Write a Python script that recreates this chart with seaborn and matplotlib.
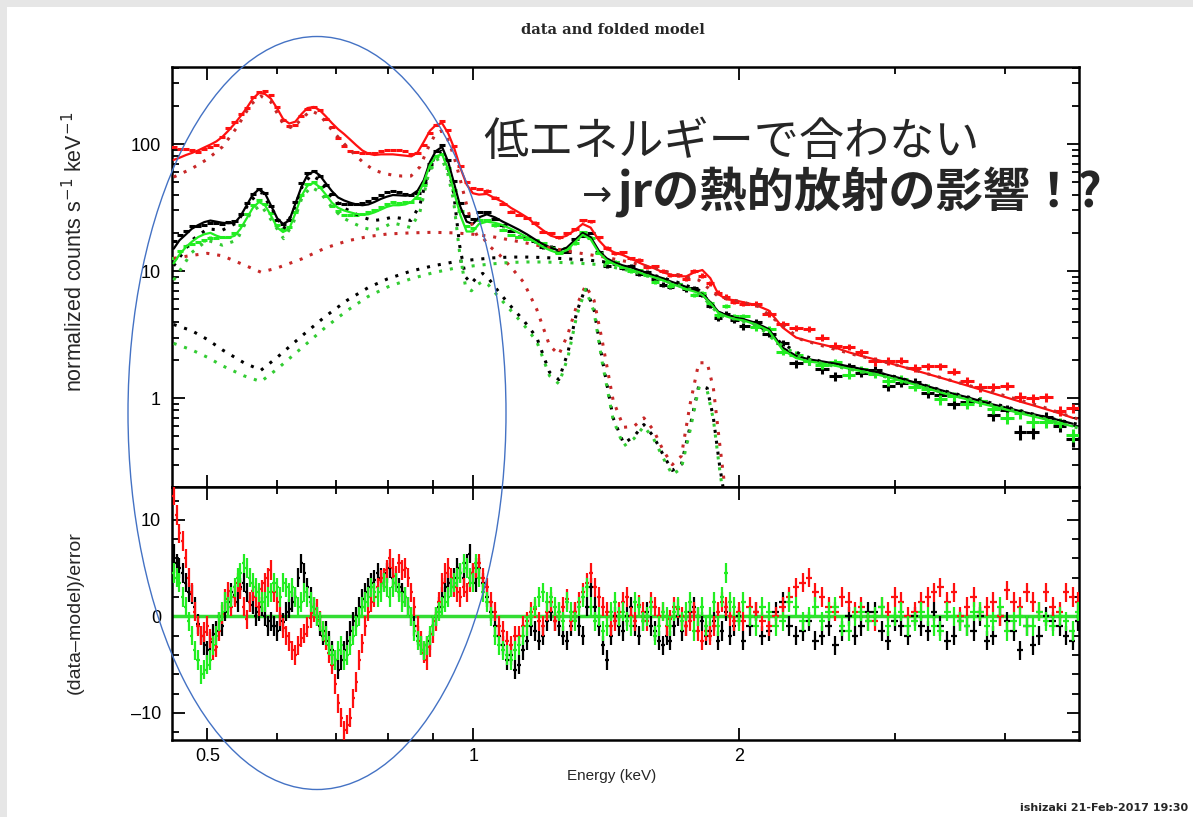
import numpy as np
import matplotlib
matplotlib.use('Agg')
import matplotlib.pyplot as plt
import seaborn as sns
from matplotlib.patches import Ellipse, Rectangle
from matplotlib.ticker import FixedLocator, NullFormatter, MultipleLocator, LogLocator

# ---- spectra read off the XSPEC "data and folded model" plot ----
# bin centres (keV)
energy = [0.458, 0.465, 0.473, 0.480, 0.488, 0.496, 0.504, 0.512, 0.520, 0.528,
          0.537, 0.545, 0.554, 0.563, 0.572, 0.581, 0.590, 0.600, 0.609, 0.619,
          0.629, 0.639, 0.649, 0.660, 0.670, 0.681, 0.692, 0.703, 0.714, 0.726,
          0.737, 0.749, 0.761, 0.773, 0.786, 0.798, 0.811, 0.824, 0.838, 0.851,
          0.865, 0.879, 0.893, 0.907, 0.922, 0.937, 0.952, 0.967, 0.983, 0.999,
          1.015, 1.036, 1.058, 1.080, 1.103, 1.126, 1.150, 1.174, 1.199, 1.224,
          1.250, 1.276, 1.303, 1.330, 1.358, 1.387, 1.416, 1.446, 1.476, 1.507,
          1.539, 1.571, 1.604, 1.638, 1.672, 1.707, 1.743, 1.780, 1.817, 1.855,
          1.894, 1.934, 1.975,
          2.02, 2.09, 2.16, 2.24, 2.32, 2.40, 2.48, 2.57, 2.66, 2.75,
          2.85, 2.95, 3.05, 3.16, 3.27, 3.38, 3.50, 3.62, 3.75, 3.88,
          4.02, 4.16, 4.30, 4.45, 4.61, 4.77]

# folded model (counts s^-1 keV^-1)
red_model = [75, 78, 82, 85, 89, 94, 99, 105, 114, 127,
             145, 165, 192, 228, 252, 248, 228, 190, 158, 145,
             150, 172, 192, 196, 185, 165, 146, 131, 120, 108,
             98, 89, 84, 82, 83, 83, 83, 82, 81, 80,
             86, 104, 127, 141, 146, 121, 92, 65, 48, 41,
             40, 40.5, 37.5, 35, 31.5, 29, 26.5, 23.5, 21, 19,
             18.2, 19, 21, 23.5, 22, 17.5, 15, 14, 13.4, 12.6,
             11.7, 11, 10.5, 9.8, 9.4, 9.1, 9.1, 9.8, 10.2, 8.8,
             6.6, 6.0, 5.9,
             5.7, 5.4, 4.9, 3.6, 3.0, 2.8, 2.65, 2.5, 2.3, 2.15,
             2.02, 1.9, 1.78, 1.66, 1.55, 1.45, 1.35, 1.26, 1.17, 1.09,
             1.01, 0.94, 0.88, 0.82, 0.76, 0.70]
black_model = [15, 17.5, 19.5, 21.5, 23, 24.3, 25, 24.5, 24, 23.8,
               24, 27, 33, 40, 44, 41, 33, 26, 23.5, 25,
               34, 46, 57, 61, 57, 49, 42.5, 38, 36, 34.5,
               33.5, 33, 33.5, 35, 37, 38.5, 39.7, 39.5, 39.2, 39.7,
               43, 52, 72, 88, 95, 72, 48, 32, 24.5, 23.5,
               26.5, 28, 26.5, 24.5, 22.8, 21.2, 19.5, 17.8, 16.3, 15.3,
               14.5, 15.3, 17.5, 20, 18.5, 14.5, 12.6, 11.7, 11.1, 10.7,
               10.2, 9.7, 9.2, 8.8, 8.3, 7.9, 7.5, 7.1, 6.6, 5.7,
               4.8, 4.5, 4.3,
               4.2, 3.9, 3.5, 2.5, 2.15, 2.02, 1.95, 1.87, 1.78, 1.7,
               1.62, 1.52, 1.43, 1.33, 1.24, 1.16, 1.08, 1.02, 0.95, 0.89,
               0.84, 0.79, 0.75, 0.71, 0.67, 0.63]
green_model = [11.5, 13.5, 15.5, 17, 18.5, 19.5, 20, 19, 18.3, 18.3,
               19, 21.5, 26, 31.5, 35, 33, 27.5, 22, 20.3, 21.5,
               28.5, 39, 47, 49.5, 46, 40, 34.5, 31.5, 30, 29,
               28.2, 27.8, 28, 29, 30.5, 32, 33, 33, 33.5, 35,
               39, 50, 68, 80, 83, 63, 41, 27.5, 20.5, 20.5,
               23.5, 24.5, 24, 23, 21.5, 20, 18.5, 17, 15.5, 14.5,
               13.8, 14.6, 16.8, 19.3, 17.8, 14, 12.2, 11.3, 10.7, 10.3,
               9.8, 9.3, 8.9, 8.5, 8.0, 7.6, 7.2, 6.9, 6.5, 5.6,
               4.7, 4.4, 4.2,
               4.1, 3.8, 3.4, 2.4, 2.07, 1.95, 1.88, 1.8, 1.71, 1.63,
               1.55, 1.46, 1.37, 1.28, 1.19, 1.11, 1.04, 0.98, 0.91, 0.86,
               0.81, 0.76, 0.72, 0.68, 0.64, 0.60]

# (data-model)/error at the bins above
red_resid = [12.5, 8.6, 6.0, 2.5, -1.0, -1.6, -2.3, -3.2, 0.2, 2.6,
             2.0, 2.8, -0.3, 2.6, 1.0, 3.5, 4.8, 1.5, -1.2, -2.6,
             -4.0, -2.2, -1.1, 0.4, -0.4, -2.5, -5.0, -9.0, -11.8, -10.5,
             -6.8, -2.8, 0.5, 2.0, 3.8, 4.8, 5.0, 5.5, 5.0, 2.5,
             -1.0, -3.8, -3.2, -0.5, 3.5, 5.0, 3.0, 2.0, 2.5, 4.5,
             5.5, 3.0, 0.5, -1.5, -3.0, -2.0, -0.5, 0.8, -1.0, 1.5,
             0.5, 1.8, 0.5, 2.5, 4.5, 2.0, 0.5, -0.5, 1.5, 0.0,
             1.2, -0.5, 1.0, 0.5, -0.3, 0.8, -1.0, 0.5, -2.5, -2.0,
             0.5, 1.0, -0.5,
             -0.5, 0.5, -1.0, 1.0, 3.0, 4.0, 2.0, 0.5, 1.5, 1.0,
             -0.5, 0.5, 1.5, 0.5, 2.0, 3.0, 2.5, 1.0, 0.5, 1.5,
             2.7, 1.0, 1.5, 2.5, 0.5, 2.0]
black_resid = [6.5, 5.0, 3.5, 2.3, -0.8, -3.0, -2.6, -1.5, -1.0, 1.5,
               2.2, 3.0, 2.5, 1.2, 0.5, 0.0, -0.5, -1.5, -0.6, 0.8,
               2.0, 5.5, 3.0, 1.0, -1.0, -1.5, -3.5, -5.5, -3.5, -1.5,
               0.0, 1.8, 3.0, 3.8, 4.0, 4.5, 4.0, 3.0, 2.0, 0.0,
               -2.0, -3.5, -2.5, 0.0, 2.0, 3.5, 4.0, 4.5, 5.5, 4.5,
               5.0, 2.0, -1.0, -3.0, -4.0, -5.0, -2.5, -1.5, -2.0, 0.5,
               -1.0, -2.5, 0.5, -2.0, 3.0, -1.0, -4.5, 0.0, -1.5, 1.0,
               -2.0, 0.5, -1.5, -3.0, -2.5, 0.0, -1.0, 1.0, -0.5, -1.5,
               -2.5, 0.5, -1.0,
               -2.5, 0.5, -1.5, 1.5, -2.0, -0.5, -2.0, -3.0, 0.0, -1.0,
               0.5, -2.5, -1.0, 0.0, -1.5, -1.0, -2.0, -1.0, 0.0, -2.0,
               -0.5, -3.5, -3.0, 0.0, -1.0, -2.5]
green_resid = [4.5, 3.5, 1.0, -2.0, -4.5, -5.5, -4.5, -2.0, 0.5, 1.0,
               3.0, 4.5, 5.0, 3.5, 2.5, 1.5, 2.5, 3.0, 3.5, 2.5,
               2.0, 1.5, 2.0, 1.0, -0.5, -2.0, -4.0, -3.5, -4.5, -3.0,
               -1.0, 1.0, 2.0, 2.5, 2.5, 3.0, 3.0, 2.5, 2.0, 0.0,
               -2.5, -3.5, -2.0, 0.0, 1.0, 2.0, 3.5, 4.5, 5.0, 3.5,
               4.0, 1.5, -2.0, -3.5, -4.5, -3.0, -1.0, 1.0, 2.5, 2.0,
               0.5, 1.5, -0.5, 2.0, 1.0, 0.0, -1.0, 1.5, 0.5, -1.0,
               1.0, 0.0, -2.0, 0.5, -1.0, 1.0, 0.5, -1.5, 1.0, 0.0,
               -1.0, 4.5, 1.0,
               1.5, -1.0, 0.5, -0.5, 1.0, 0.0, -0.5, 1.0, -1.5, 0.5,
               0.0, -1.0, 0.5, -0.5, 0.0, -1.5, 0.0, -1.0, 0.5, -0.5,
               -1.5, 0.0, -1.0, -0.5, 0.0, -1.5]

# the residual panel also shows the bins lying between the ones above
energy_mid = [0.4615, 0.469, 0.4765, 0.484, 0.492, 0.500, 0.508, 0.516, 0.524, 0.5325,
              0.541, 0.5495, 0.5585, 0.5675, 0.5765, 0.5855, 0.595, 0.6045, 0.614, 0.624,
              0.634, 0.644, 0.6545, 0.665, 0.6755, 0.6865, 0.6975, 0.7085, 0.720, 0.7315,
              0.743, 0.755, 0.767, 0.7795, 0.792, 0.8045, 0.8175, 0.831, 0.8445, 0.858,
              0.872, 0.886, 0.900, 0.9145, 0.9295, 0.9445, 0.9595, 0.975, 0.991, 1.007,
              1.0255, 1.047, 1.069, 1.0915, 1.1145, 1.138, 1.162, 1.1865, 1.2115, 1.237,
              1.263, 1.2895, 1.3165, 1.344, 1.3725, 1.4015, 1.431, 1.461, 1.4915, 1.523,
              1.555, 1.5875, 1.621, 1.655, 1.6895, 1.725, 1.7615, 1.7985, 1.836, 1.8745,
              1.914, 1.9545, 1.997,
              2.055, 2.125, 2.20, 2.28, 2.36, 2.44, 2.525, 2.615, 2.705, 2.80,
              2.90, 3.00, 3.105, 3.215, 3.325, 3.44, 3.56, 3.685, 3.815, 3.95,
              4.09, 4.23, 4.375, 4.53, 4.69, 4.84]
red_resid_mid = [10.5, 7.8, 4.0, 0.5, -2.0, -1.0, -3.5, -1.5, 1.8, 1.0,
                 3.5, 1.0, 1.5, 2.0, 2.8, 4.0, 2.5, 0.0, -2.0, -3.5,
                 -3.0, -1.8, -0.2, 0.8, -1.5, -3.8, -7.0, -10.5, -11.2, -8.5,
                 -4.5, -1.0, 1.5, 3.0, 4.0, 6.0, 4.2, 4.8, 4.0, 1.0,
                 -2.5, -4.5, -1.8, 1.5, 4.5, 4.0, 2.5, 3.0, 3.5, 5.0,
                 4.0, 1.5, -1.0, -2.5, -2.0, -1.0, 0.5, -0.5, 0.5, -0.5,
                 1.0, -0.5, 1.5, 3.5, 3.0, 1.0, -1.0, 0.5, 2.0, -0.5,
                 0.5, 1.5, 0.0, -1.0, 1.0, 0.0, -0.5, -1.5, -1.5, -1.0,
                 1.5, 0.0, 0.5,
                 1.0, -0.5, 0.0, 2.0, 3.5, 2.5, 1.0, 2.0, 0.5, -0.5,
                 1.0, 2.0, 0.0, 1.5, 2.5, 1.5, 0.0, 2.0, 1.0, 0.0,
                 1.5, 2.5, 0.5, 1.0, 2.5, 1.5]
black_resid_mid = [5.5, 4.5, 2.5, 1.0, -2.0, -3.5, -1.8, -0.5, 0.5, 2.5,
                   1.5, 3.5, 1.5, 0.0, 1.0, -1.0, -1.0, -0.5, 0.5, 1.5,
                   4.0, 4.5, 2.0, 0.0, -2.0, -2.5, -4.5, -4.5, -2.5, -0.5,
                   1.0, 2.5, 3.5, 4.5, 3.5, 5.0, 3.5, 2.5, 1.0, -1.0,
                   -3.0, -3.0, -1.0, 1.0, 3.0, 3.0, 5.0, 4.0, 6.5, 3.5,
                   3.5, 0.5, -2.0, -4.5, -5.5, -3.5, -1.0, -2.5, -0.5, -0.5,
                   -2.0, -1.0, -1.0, 1.0, 1.0, -3.0, -2.0, -1.0, 0.0, -1.0,
                   -0.5, -1.0, -2.5, -2.0, -1.0, -1.5, 0.5, 0.0, -2.0, -0.5,
                   -1.5, -2.0, 0.0,
                   -1.0, -2.0, 0.5, -1.0, -1.5, -2.5, -1.0, -1.5, -2.0, 0.5,
                   -1.5, -0.5, -2.0, -1.0, 0.5, -2.5, -0.5, -1.5, -2.5, 0.0,
                   -1.5, -1.0, -2.0, -0.5, -2.0, -0.5]
green_resid_mid = [4.0, 2.0, -0.5, -3.5, -6.0, -5.0, -3.0, -0.5, 1.5, 2.0,
                   4.0, 5.5, 4.0, 3.0, 1.5, 2.0, 3.5, 2.0, 3.0, 3.0,
                   1.0, 2.5, 1.5, 0.0, -1.5, -3.0, -4.5, -3.0, -4.0, -2.0,
                   0.0, 1.5, 3.0, 2.0, 3.5, 2.0, 3.5, 1.5, 1.0, -1.5,
                   -3.0, -3.0, -1.0, 0.5, 1.5, 3.0, 4.0, 5.5, 4.0, 5.5,
                   2.5, 0.0, -3.0, -4.0, -3.5, -2.0, 0.0, 2.0, 1.5, 1.0,
                   -0.5, 0.5, 1.0, 3.0, -0.5, -1.5, 0.5, 0.0, -0.5, 1.5,
                   -0.5, 1.0, -1.0, 0.0, 0.5, -0.5, 1.5, 0.0, -1.0, 1.5,
                   2.0, 1.5, -0.5,
                   0.0, 1.0, -1.0, 1.5, -0.5, 1.0, 0.5, -1.0, 0.0, -0.5,
                   1.0, 0.0, -1.0, 0.5, -1.0, 0.5, -0.5, 0.5, -1.0, 1.0,
                   -0.5, -1.0, 0.5, -1.0, -0.5, 0.5]

# fractional 1-sigma error of each bin (top panel)
frac_err = [0.022, 0.021, 0.020, 0.020, 0.019, 0.019, 0.018, 0.018, 0.018, 0.017,
            0.017, 0.016, 0.015, 0.014, 0.014, 0.014, 0.014, 0.015, 0.016, 0.016,
            0.016, 0.015, 0.014, 0.014, 0.014, 0.015, 0.015, 0.016, 0.016, 0.017,
            0.017, 0.018, 0.018, 0.018, 0.018, 0.018, 0.018, 0.018, 0.018, 0.018,
            0.017, 0.016, 0.014, 0.013, 0.013, 0.014, 0.016, 0.018, 0.020, 0.021,
            0.021, 0.021, 0.022, 0.022, 0.023, 0.024, 0.025, 0.026, 0.027, 0.028,
            0.028, 0.028, 0.027, 0.026, 0.027, 0.029, 0.030, 0.031, 0.032, 0.033,
            0.034, 0.035, 0.036, 0.037, 0.038, 0.039, 0.040, 0.040, 0.040, 0.042,
            0.045, 0.047, 0.048,
            0.050, 0.052, 0.055, 0.060, 0.063, 0.065, 0.066, 0.067, 0.068, 0.070,
            0.071, 0.072, 0.074, 0.075, 0.077, 0.079, 0.080, 0.082, 0.084, 0.086,
            0.088, 0.090, 0.092, 0.094, 0.096, 0.098]

# line-rich (low temperature) component, dotted
energy_line = [0.458, 0.48, 0.50, 0.52, 0.54, 0.56, 0.575, 0.59, 0.61, 0.625,
               0.64, 0.655, 0.67, 0.69, 0.71, 0.73, 0.75, 0.77, 0.79, 0.81,
               0.83, 0.85, 0.87, 0.89, 0.905, 0.92, 0.935, 0.95, 0.965, 0.98,
               0.995, 1.01, 1.025, 1.04, 1.07, 1.10, 1.14, 1.18, 1.22, 1.25,
               1.28, 1.31, 1.34, 1.37, 1.40, 1.44, 1.48, 1.52, 1.56, 1.60,
               1.64, 1.68, 1.72, 1.76, 1.80, 1.84, 1.87, 1.90, 1.93]
red_line = [55, 64, 76, 95, 135, 205, 238, 215, 142, 133,
            160, 183, 170, 132, 105, 86, 72, 63, 59, 57,
            56, 56, 66, 95, 118, 127, 110, 82, 55, 36,
            24, 19, 18.5, 16, 13.5, 11, 8.2, 5.0, 2.6, 2.2,
            3.2, 5.4, 7.7, 5.9, 2.8, 0.96, 0.59, 0.6, 0.7, 0.56,
            0.39, 0.3, 0.35, 0.9, 1.9, 1.9, 1.2, 0.45, 0.18]
black_line = [11, 17.5, 21.5, 21, 24, 36, 42, 32, 21.5, 29,
              46, 57, 52, 39, 32, 29, 26.5, 25, 25.5, 26.6,
              26, 25, 33, 62, 80, 88, 68, 42, 16, 9,
              8, 9, 9.6, 8.8, 6.8, 5.4, 4.1, 3.0, 1.6, 1.4,
              2.3, 4.8, 7.4, 5.0, 2.0, 0.7, 0.44, 0.5, 0.62, 0.5,
              0.36, 0.27, 0.3, 0.6, 1.25, 1.2, 0.7, 0.3, 0.15]
green_line = [8.5, 14, 17.5, 16, 17.5, 29, 33, 25.5, 18, 23.5,
              38, 46, 42, 32.5, 26.5, 24, 22, 21, 22, 24,
              23, 22, 29, 58, 74, 78, 60, 36, 14, 7.6,
              7.0, 7.8, 8.3, 7.8, 6.2, 5.0, 3.8, 2.8, 1.5, 1.3,
              2.1, 4.5, 7.2, 4.8, 1.9, 0.68, 0.42, 0.48, 0.6, 0.48,
              0.34, 0.25, 0.28, 0.56, 1.2, 1.15, 0.68, 0.28, 0.13]

# continuum (hot) component, dotted
energy_cont = [0.458, 0.48, 0.50, 0.52, 0.55, 0.575, 0.60, 0.64, 0.68, 0.72,
               0.76, 0.80, 0.85, 0.90, 0.95, 1.0, 1.05, 1.10, 1.15, 1.20,
               1.25, 1.30, 1.35, 1.40, 1.50, 1.60, 1.70, 1.80, 1.90, 2.0,
               2.1, 2.2, 2.35, 2.5, 2.7, 3.0, 3.4, 3.9, 4.4, 4.85]
red_cont = [12.6, 13.3, 13.8, 13.2, 11.2, 9.8, 10.6, 12.5, 15.2, 17.3,
            18.7, 19.6, 20.0, 20.2, 20.0, 19.5, 18.7, 17.6, 16.6, 15.6,
            14.8, 14.1, 13.5, 13.0, 11.8, 10.6, 9.4, 8.5, 6.2, 5.8,
            5.3, 4.1, 2.9, 2.55, 2.2, 1.84, 1.44, 1.1, 0.86, 0.68]
black_cont = [3.8, 3.4, 2.9, 2.4, 1.9, 1.66, 2.1, 3.1, 4.4, 5.9,
              7.4, 8.7, 10.0, 11.0, 11.8, 12.3, 12.7, 12.9, 12.9, 12.8,
              12.6, 12.4, 12.2, 11.9, 10.6, 9.3, 8.2, 7.1, 4.7, 4.2,
              3.8, 2.9, 2.2, 1.9, 1.72, 1.48, 1.15, 0.9, 0.72, 0.62]
green_cont = [2.7, 2.4, 2.1, 1.8, 1.5, 1.35, 1.7, 2.5, 3.6, 4.9,
              6.3, 7.5, 8.7, 9.7, 10.5, 11.0, 11.4, 11.7, 11.8, 11.8,
              11.7, 11.6, 11.4, 11.2, 10.1, 8.9, 7.8, 6.8, 4.5, 4.1,
              3.7, 2.8, 2.1, 1.85, 1.66, 1.42, 1.11, 0.87, 0.7, 0.58]


def bin_halfwidths(e):
    # half widths of contiguous bins on a log grid
    e = np.asarray(e)
    edges = np.sqrt(e[1:] * e[:-1])
    lo = np.concatenate([[e[0] ** 2 / edges[0]], edges])
    hi = np.concatenate([edges, [e[-1] ** 2 / edges[-1]]])
    return [e - lo, hi - e]


# ---- figure ----
sns.set_theme(style='ticks')
plt.rcParams['font.family'] = ['Liberation Sans', 'DejaVu Sans']

W, H = 1193, 817
fig = plt.figure(figsize=(W / 100, H / 100), dpi=100)
fig.patch.set_facecolor('white')
# light grey slide border on top and left
fig.add_artist(Rectangle((0, 1 - 7 / H), 1, 7 / H, transform=fig.transFigure,
                         facecolor='#e6e6e6', edgecolor='none', zorder=-5))
fig.add_artist(Rectangle((0, 0), 7 / W, 1, transform=fig.transFigure,
                         facecolor='#e6e6e6', edgecolor='none', zorder=-5))

ax1 = fig.add_axes([172 / W, 1 - 487 / H, 907 / W, 420 / H])
ax2 = fig.add_axes([172 / W, 1 - 740 / H, 907 / W, 253 / H], sharex=ax1)
ax1.set_xscale('log')
ax1.set_yscale('log')

E = np.array(energy)
xerr = bin_halfwidths(E)
ferr = np.array(frac_err)

# residual panel uses both sets of bins
E_all = np.concatenate([E, energy_mid])
order = np.argsort(E_all)
E_all = E_all[order]
xerr_all = bin_halfwidths(E_all)

groups = [
    ('#000000', '#000000', black_model, black_resid, black_resid_mid, black_line, black_cont),
    ('#ff1010', '#c82828', red_model, red_resid, red_resid_mid, red_line, red_cont),
    ('#22ee22', '#33cc33', green_model, green_resid, green_resid_mid, green_line, green_cont),
]

for col, dcol, model, resid, resid_mid, line, cont in groups:
    model = np.array(model)
    resid = np.array(resid)
    data = model * (1 + resid * ferr)
    ax1.errorbar(E, data, xerr=xerr, yerr=model * ferr, fmt='none',
                 ecolor=col, elinewidth=2.2, capsize=0, zorder=3)
    sns.lineplot(x=E, y=model, ax=ax1, color=col, lw=1.6,
                 estimator=None, sort=False, zorder=4)
    sns.lineplot(x=energy_line, y=line, ax=ax1, color=dcol, lw=2.2,
                 linestyle=(0, (1, 2.6)), estimator=None, sort=False, zorder=4)
    sns.lineplot(x=energy_cont, y=cont, ax=ax1, color=dcol, lw=2.2,
                 linestyle=(0, (1, 2.6)), estimator=None, sort=False, zorder=4)
    r_all = np.concatenate([resid, resid_mid])[order]
    ax2.errorbar(E_all, r_all, xerr=xerr_all, yerr=1.0, fmt='none',
                 ecolor=col, elinewidth=1.6, capsize=0, zorder=3)

ax2.axhline(0, color='#33dd33', lw=2.5, zorder=2)

ax1.set_xlim(0.456, 4.85)
ax1.set_ylim(0.2, 404)
ax2.set_ylim(-12.8, 13.4)

# ticks in PGPLOT fashion
ax2.set_xticks([0.5, 1, 2])
ax2.set_xticklabels(['0.5', '1', '2'])
ax2.xaxis.set_minor_locator(FixedLocator([0.6, 0.7, 0.8, 0.9, 3, 4]))
ax2.xaxis.set_minor_formatter(NullFormatter())
ax1.tick_params(labelbottom=False)

ax1.set_yticks([1, 10, 100])
ax1.set_yticklabels(['1', '10', '100'])
ax1.yaxis.set_minor_locator(LogLocator(base=10, subs=np.arange(2, 10)))
ax1.yaxis.set_minor_formatter(NullFormatter())

ax2.set_yticks([-10, 0, 10])
ax2.set_yticklabels(['\u201310', '0', '10'])
ax2.yaxis.set_minor_locator(MultipleLocator(2))

for ax in (ax1, ax2):
    ax.tick_params(which='both', direction='in', top=True, right=True,
                   width=1.3, color='black', labelsize=13, labelcolor='black')
    ax.tick_params(which='major', length=9)
    ax.tick_params(which='minor', length=5)
    ax.tick_params(axis='y', pad=8)
    ax.tick_params(axis='x', pad=6)
    for s in ax.spines.values():
        s.set_linewidth(1.8)
        s.set_color('black')
    ax.set_facecolor('white')
    ax.set_xlabel('')
    ax.set_ylabel('')

# axis labels and title
fig.text(75 / W, 1 - 252 / H, 'normalized counts s$^{-1}$ keV$^{-1}$',
         rotation=90, ha='center', va='center', fontsize=15.5)
fig.text(75 / W, 1 - 613 / H, '(data\u2013model)/error',
         rotation=90, ha='center', va='center', fontsize=14)
fig.text(612 / W, 1 - 776 / H, 'Energy (keV)', ha='center', va='center', fontsize=11)
fig.text(613 / W, 1 - 30 / H, 'data and folded model', ha='center', va='center',
         family='DejaVu Serif', weight='bold', fontsize=10.5)
fig.text(1020 / W, 1 - 808 / H, 'ishizaki 21-Feb-2017 19:30', ha='left', va='center',
         family='DejaVu Sans', weight='bold', fontsize=8)

# slide annotation
fig.text(483 / W, 1 - 142 / H, '低エネルギーで合わない', ha='left', va='center',
         family=['Noto Sans CJK JP'], fontsize=32.5, zorder=20)
fig.text(582 / W, 1 - 196 / H, '\u2192', ha='left', va='center',
         family=['DejaVu Sans'], fontsize=26, zorder=20)
fig.text(618 / W, 1 - 192 / H, 'jrの熱的放射の影響\uff01?', ha='left', va='center',
         family=['Noto Sans CJK JP'], weight='bold', fontsize=34, zorder=20)

fig.add_artist(Ellipse((317 / W, 1 - 413 / H), 378 / W, 753 / H,
                       transform=fig.transFigure, fill=False,
                       edgecolor='#4472c4', lw=1.0, zorder=30))

fig.savefig('out.png', dpi=100)
